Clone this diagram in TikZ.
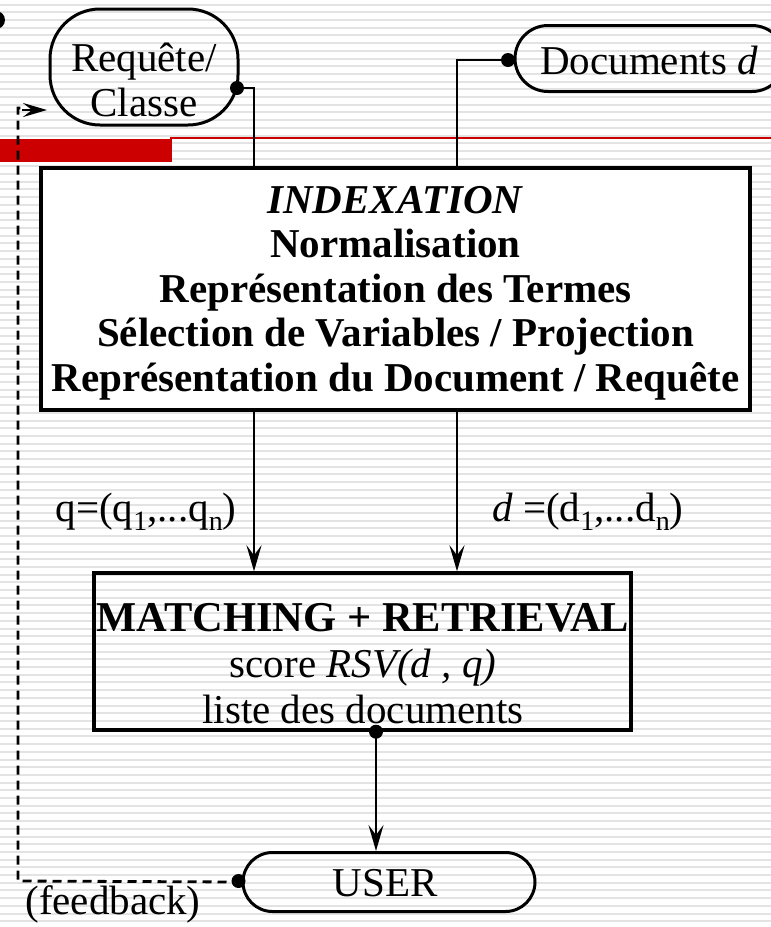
\documentclass[tikz,border=0pt]{standalone}
\usepackage{fontspec}
\setmainfont{Liberation Serif}
\usetikzlibrary{arrows.meta}
% subscript at a size tied to the big body text
\newcommand\sbs[1]{\raisebox{-0.22em}{\fontsize{28}{28}\selectfont #1}}
\begin{document}
\begin{tikzpicture}[x=1pt,y=-1pt,
  txt/.style={inner sep=0pt, align=center, font=\fontsize{41}{45}\selectfont},
  pill/.style={draw, line width=3pt, inner sep=0pt},
  boxed/.style={draw, line width=3.4pt, inner sep=0pt},
  wire/.style={line width=2.9pt},
  arrow/.style={wire, -{Stealth[length=26pt,width=15pt,inset=10pt]}},
  fb/.style={line width=2.8pt, dash pattern=on 9pt off 6pt},
  dot/.style={fill=black},
]
\useasboundingbox (0,0) rectangle (771,927);
\clip (0,0) rectangle (771,927);

% striped slide background
\fill[white] (0,0) rectangle (771,927);
\foreach \k in {0,...,120}
  \fill[gray!22] (0,{4.6+\k*7.703-1}) rectangle (771,{4.6+\k*7.703+1});

% title bar decoration
\fill[black] (-4,20) circle (9);
\fill[red!80!black] (0,139) rectangle (172,162);
\draw[red!80!black, line width=2pt] (170,138) -- (771,138);

% trunk positions
\coordinate (qx) at (254,0);
\coordinate (dx) at (457,0);
\coordinate (ux) at (376,0);

% inputs
\node[pill, minimum width=188pt, minimum height=116pt, rounded corners=50pt] (req) at (144,67) {};
\node[txt] (reqtxt) at (144,80) {Requête/\\Classe};
\node[pill, minimum width=270pt, minimum height=66pt, rounded corners=33pt] (docs) at (650,58.5) {};
\node[txt, anchor=west] (docstxt) at (540,60) {Documents \textit{d}};

% indexation block
\node[boxed, fill=white, minimum width=709pt, minimum height=242pt] (index) at (395.5,289) {};
\node[txt, font=\fontsize{41}{44.5}\selectfont\bfseries] (indextxt) at (395.5,293)
  {\textit{INDEXATION}\\Normalisation\\Représentation des Termes\\Sélection de Variables / Projection\\Représentation du Document / Requête};

% matching block
\node[boxed, minimum width=537pt, minimum height=157pt] (match) at (362.5,651.5) {};
\node[txt, font=\fontsize{41}{46}\selectfont] (matchtxt) at (363,664)
  {{\fontsize{42.5}{46}\selectfont\bfseries MATCHING + RETRIEVAL}\\score \textit{RSV(d , q)}\\liste des documents};

% user
\node[pill, minimum width=292pt, minimum height=59pt, rounded corners=29.5pt] (user) at (389,882) {};
\node[txt] (usertxt) at (385,883) {USER};

% vector labels
\node[txt] (qlab) at (146,512) {q=(q\sbs{1},...q\sbs{n})};
\node[txt] (dlab) at (588,512) {\textit{d} =(d\sbs{1},...d\sbs{n})};
\node[txt] (fblab) at (113,904) {(feedback)};

% connectors
\coordinate (reqport) at (237,88);
\coordinate (docport) at (508,60);
\fill[dot] (reqport) circle (7);
\draw[wire] (reqport) -| (qx |- index.north);
\fill[dot] (docport) circle (7);
\draw[wire] (docport) -| (dx |- index.north);
\draw[arrow] (qx |- index.south) -- (qx |- match.north);
\draw[arrow] (dx |- index.south) -- (dx |- match.north);
\fill[dot] (ux |- match.south) circle (7);
\draw[arrow] (ux |- match.south) -- (ux |- user.north);

% feedback loop
\coordinate (fbcorner) at (18,881);
\coordinate (fbtop) at (18,108);
\coordinate (fbtip) at (47,110);
\fill[dot] (user.west) ++(-3,-1) circle (7);
\draw[fb] (user.west) -- (fbcorner) -- (fbtop) -- (22,108);
\draw[wire, -{Stealth[length=24pt,width=14pt,inset=9pt]}] (22,110) -- (fbtip);
\end{tikzpicture}
\end{document}
